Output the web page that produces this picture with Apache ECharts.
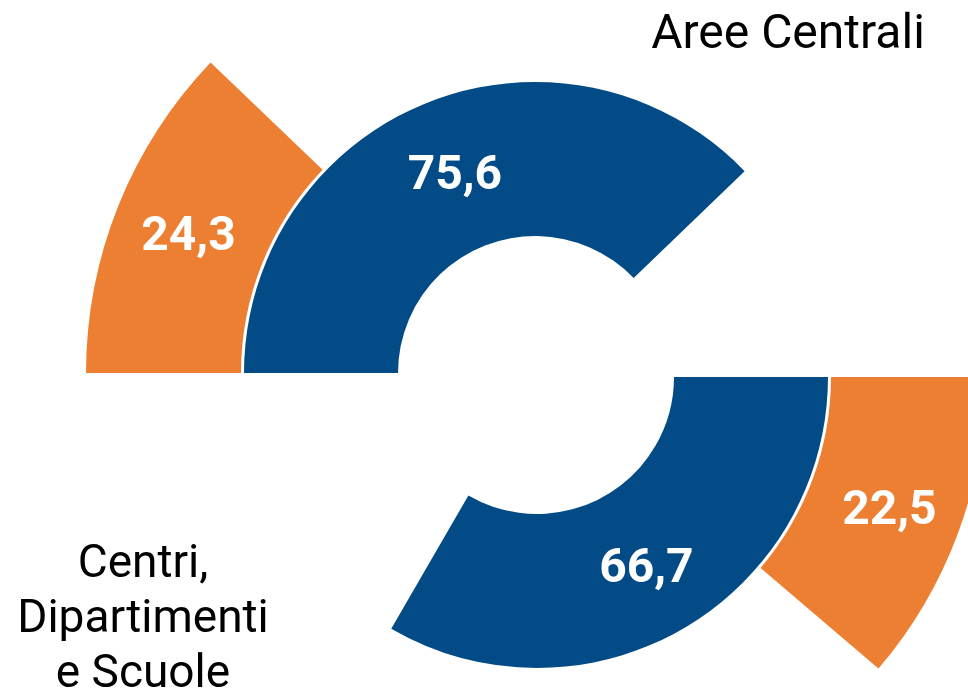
<!DOCTYPE html>
<html>
<head>
<meta charset="utf-8">
<script src="https://cdn.jsdelivr.net/npm/echarts@6/dist/echarts.min.js"></script>
<style>
  html, body { margin: 0; padding: 0; background: #fff; }
  #chart { width: 968px; height: 693px; }
</style>
</head>
<body>
<div id="chart"></div>
<script>
// two half rings: 100% = 180 degrees
const groups = ['Aree Centrali', 'Centri,\nDipartimenti\ne Scuole']
const blueValues = [75.6, 66.7]
const orangeValues = [24.3, 22.5]

const BLUE = '#034B87'
const ORANGE = '#ED7F33'
const FONT = 'Roboto'

const chart = echarts.init(document.getElementById('chart'))

// layout per group: centre and start angle
const layout = [
  { center: [535, 373], startAngle: 180 },
  { center: [537, 377], startAngle: 0 },
]

const fmt = p => String(p.value).replace('.', ',')

function ring(value, color, radius, i) {
  return {
    type: 'pie',
    name: groups[i],
    center: layout[i].center,
    radius: radius,
    startAngle: layout[i].startAngle,
    clockwise: true,
    silent: true,
    animation: false,
    avoidLabelOverlap: false,
    emphasis: { disabled: true },
    label: {
      show: true,
      position: 'inside',
      formatter: fmt,
      color: '#fff',
      fontFamily: FONT,
      fontWeight: 'bold',
      fontSize: 48,
      offset: [1, 5],
    },
    labelLine: { show: false },
    itemStyle: { borderWidth: 0 },
    data: [
      { value: value, itemStyle: { color: color } },
      // rest of the circle, not drawn
      { value: 200 - value, itemStyle: { color: 'rgba(0,0,0,0)' }, label: { show: false } },
    ],
  }
}

const series = []
groups.forEach((g, i) => {
  series.push(ring(blueValues[i], BLUE, [137, 291], i))
  series.push(ring(orangeValues[i], ORANGE, [294, 449], i))
})

chart.setOption({
  animation: false,
  series: series,
  graphic: [
    {
      type: 'text',
      style: {
        text: groups[0],
        x: 788, y: 36,
        align: 'center', verticalAlign: 'middle',
        font: '48px ' + FONT,
        fill: '#000',
      },
    },
    {
      type: 'text',
      style: {
        text: groups[1],
        x: 143, y: 620,
        align: 'center', verticalAlign: 'middle',
        font: '46px ' + FONT,
        lineHeight: 55,
        fill: '#000',
      },
    },
  ],
})
</script>
</body>
</html>
